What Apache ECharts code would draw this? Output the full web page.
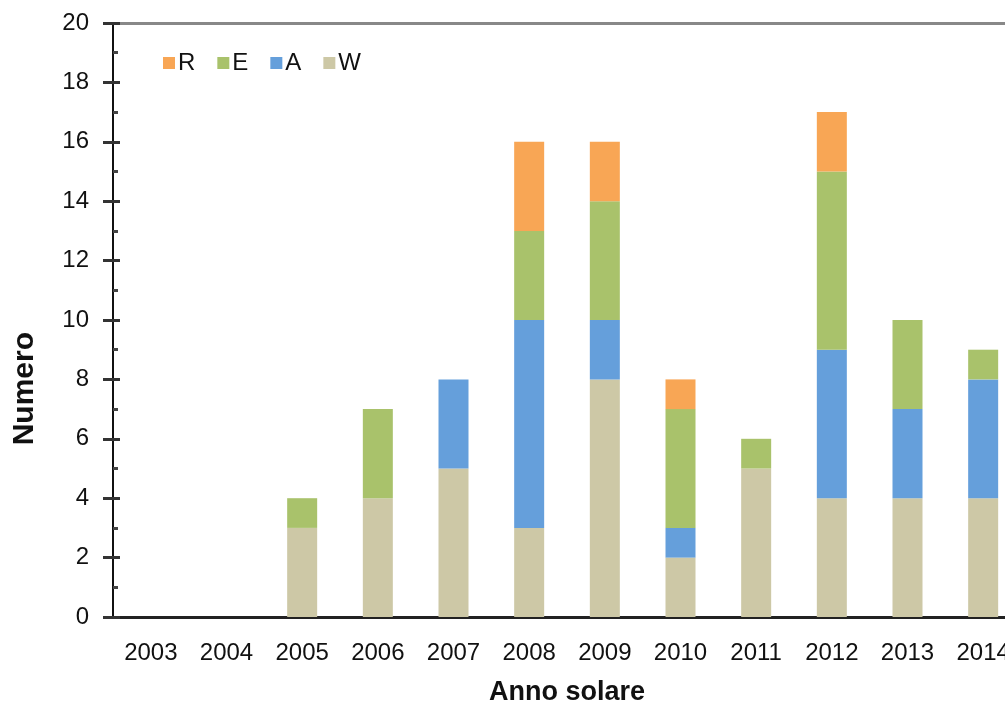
<!DOCTYPE html>
<html>
<head>
<meta charset="utf-8">
<script src="https://cdn.jsdelivr.net/npm/echarts@6/dist/echarts.min.js"></script>
<style>
  html, body { margin: 0; padding: 0; background: #fff; }
  #chart { width: 1005px; height: 706px; }
</style>
</head>
<body>
<div id="chart"></div>
<script>
// anni e valori
const anni = ['2003', '2004', '2005', '2006', '2007', '2008', '2009', '2010', '2011', '2012', '2013', '2014'];
const serieW = [0, 0, 3, 4, 5, 3, 8, 2, 5, 4, 4, 4];
const serieA = [0, 0, 0, 0, 3, 7, 2, 1, 0, 5, 3, 4];
const serieE = [0, 0, 1, 3, 0, 3, 4, 4, 1, 6, 3, 1];
const serieR = [0, 0, 0, 0, 0, 3, 2, 1, 0, 2, 0, 0];

const font = 'Liberation Sans, Arial, sans-serif';

let myChart = echarts.init(document.getElementById('chart'));

function barra(name, data, color) {
  return {
    name: name,
    type: 'bar',
    stack: 'tot',
    barWidth: 30,
    data: data,
    itemStyle: { color: color },
    emphasis: { disabled: true }
  };
}

myChart.setOption({
  animation: false,
  backgroundColor: '#fff',
  textStyle: { fontFamily: font },
  grid: { left: 113, top: 23, width: 908, bottom: 89, outerBoundsMode: 'none', containLabel: false },
  legend: {
    data: ['R', 'E', 'A', 'W'],
    left: 158,
    top: 46,
    itemWidth: 12,
    itemHeight: 12,
    itemGap: 22,
    icon: 'rect',
    textStyle: { fontSize: 24, color: '#111', fontFamily: font, padding: [0, 0, 0, -2] }
  },
  xAxis: [
    {
      type: 'category',
      data: anni,
      axisLine: { onZero: false, lineStyle: { color: '#222', width: 3 } },
      axisTick: { length: 6, lineStyle: { color: '#555', width: 3 } },
      axisLabel: { fontSize: 24, color: '#111', margin: 24 },
      name: 'Anno solare',
      nameLocation: 'middle',
      nameGap: 62,
      nameTextStyle: { fontSize: 27, fontWeight: 'bold', color: '#111' }
    },
    {
      type: 'category',
      position: 'top',
      data: anni,
      axisLine: { onZero: false, lineStyle: { color: '#888', width: 3 } },
      axisTick: { show: false },
      axisLabel: { show: false }
    }
  ],
  yAxis: [
    {
      type: 'value',
      min: 0,
      max: 20,
      interval: 2,
      axisLine: { show: true, lineStyle: { color: '#111', width: 2 } },
      axisTick: { show: true, length: 10, lineStyle: { color: '#333', width: 3 } },
      axisLabel: { fontSize: 24, color: '#111', margin: 24 },
      splitLine: { show: false }
    },
    {
      type: 'value',
      position: 'left',
      min: 0,
      max: 20,
      interval: 2,
      axisLine: { show: false },
      axisTick: { show: true, inside: true, length: 7, lineStyle: { color: '#333', width: 3 } },
      minorTick: { show: true, splitNumber: 2, length: 5, lineStyle: { color: '#444', width: 3 } },
      axisLabel: { show: false },
      splitLine: { show: false }
    }
  ],
  graphic: [
    {
      type: 'text',
      left: 10,
      top: 332,
      rotation: Math.PI / 2,
      style: {
        text: 'Numero',
        fontSize: 30,
        fontWeight: 'bold',
        fill: '#111',
        fontFamily: font
      }
    }
  ],
  series: [
    barra('W', serieW, '#cdc8a6'),
    barra('A', serieA, '#659fdb'),
    barra('E', serieE, '#a9c26b'),
    barra('R', serieR, '#f8a655')
  ]
});
</script>
</body>
</html>
